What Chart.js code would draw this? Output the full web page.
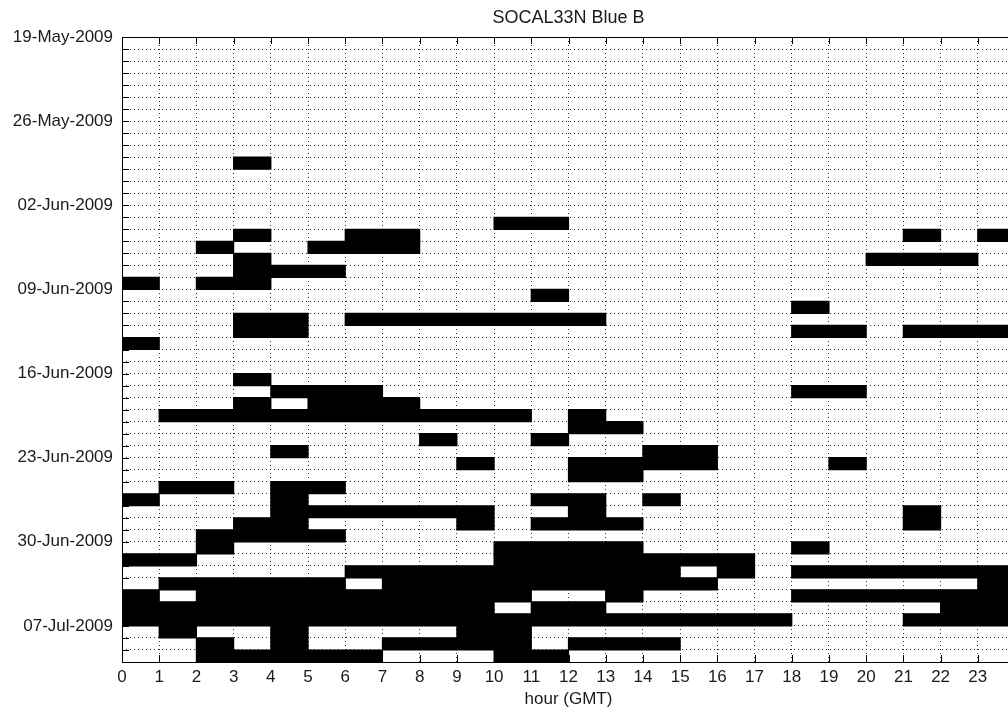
<!DOCTYPE html>
<html>
<head>
<meta charset="utf-8">
<title>SOCAL33N Blue B</title>
<script src="https://cdn.jsdelivr.net/npm/chart.js@4.4.1/dist/chart.umd.min.js"></script>
<style>
    html, body { margin: 0; padding: 0; background: #fff; overflow: hidden; }
    #wrap { width: 1030px; height: 711px; }
</style>
</head>
<body>
<div id="wrap"><canvas id="presence-chart" width="1030" height="711"></canvas></div>
<script>
// Hourly presence, one row per day from 19-May-2009 (day 0) to 09-Jul-2009 (day 51)
const dayCount = 52;
const hourCount = 24;
const dateLabels = ['19-May-2009', '26-May-2009', '02-Jun-2009', '09-Jun-2009',
                    '16-Jun-2009', '23-Jun-2009', '30-Jun-2009', '07-Jul-2009'];

// [day, first hour, last hour] of each detected block
const presence = [
    [10, 3, 4],
    [15, 10, 12],
    [16, 3, 4], [16, 6, 8], [16, 21, 22], [16, 23, 24],
    [17, 2, 3], [17, 5, 8],
    [18, 3, 4], [18, 20, 23],
    [19, 3, 6],
    [20, 0, 1], [20, 2, 4],
    [21, 11, 12],
    [22, 18, 19],
    [23, 3, 5], [23, 6, 13],
    [24, 3, 5], [24, 18, 20], [24, 21, 24],
    [25, 0, 1],
    [28, 3, 4],
    [29, 4, 7], [29, 18, 20],
    [30, 3, 4], [30, 5, 8],
    [31, 1, 11], [31, 12, 13],
    [32, 12, 14],
    [33, 8, 9], [33, 11, 12],
    [34, 4, 5], [34, 14, 16],
    [35, 9, 10], [35, 12, 16], [35, 19, 20],
    [36, 12, 14],
    [37, 1, 3], [37, 4, 6],
    [38, 0, 1], [38, 4, 5], [38, 11, 13], [38, 14, 15],
    [39, 4, 10], [39, 12, 13], [39, 21, 22],
    [40, 3, 5], [40, 9, 10], [40, 11, 14], [40, 21, 22],
    [41, 2, 6],
    [42, 2, 3], [42, 10, 14], [42, 18, 19],
    [43, 0, 2], [43, 10, 17],
    [44, 6, 15], [44, 16, 17], [44, 18, 24],
    [45, 1, 6], [45, 7, 16], [45, 23, 24],
    [46, 0, 1], [46, 2, 11], [46, 13, 14], [46, 18, 24],
    [47, 0, 10], [47, 11, 13], [47, 22, 24],
    [48, 0, 18], [48, 21, 24],
    [49, 1, 2], [49, 4, 5], [49, 9, 11],
    [50, 2, 3], [50, 4, 5], [50, 7, 11], [50, 12, 15],
    [51, 2, 7], [51, 10, 12]
];

Chart.defaults.font.family = '"Liberation Sans", Arial, sans-serif';
Chart.defaults.color = '#1a1a1a';

// Solid box round the axes with short inward tick marks on every side
const axesBox = {
    id: 'axesBox',
    afterDatasetsDraw(chart) {
        const { ctx, chartArea: a, scales: { x, y } } = chart;
        const len = 7;
        ctx.save();
        ctx.strokeStyle = '#000';
        ctx.lineWidth = 1;
        ctx.beginPath();
        x.ticks.forEach((t) => {
            const px = Math.round(x.getPixelForValue(t.value)) + 0.5;
            ctx.moveTo(px, a.bottom); ctx.lineTo(px, a.bottom - len);
            ctx.moveTo(px, a.top); ctx.lineTo(px, a.top + len);
        });
        y.ticks.forEach((t) => {
            const py = Math.round(y.getPixelForValue(t.value)) + 0.5;
            ctx.moveTo(a.left, py); ctx.lineTo(a.left + len, py);
            ctx.moveTo(a.right, py); ctx.lineTo(a.right - len, py);
        });
        ctx.stroke();
        ctx.strokeRect(Math.round(a.left) + 0.5, Math.round(a.top) + 0.5,
                       Math.round(a.right - a.left), Math.round(a.bottom - a.top));
        ctx.restore();
    }
};

const dotted = { display: false, dash: [1, 3] };

new Chart(document.getElementById('presence-chart'), {
    type: 'bar',
    data: {
        datasets: [{
            data: presence.map(([day, from, to]) => ({ y: day + 0.5, x: [from, to] })),
            backgroundColor: '#000',
            borderWidth: 0,
            barPercentage: 1,
            categoryPercentage: 1,
            inflateAmount: 0.6   // closes the hairline seams between stacked days
        }]
    },
    options: {
        indexAxis: 'y',
        responsive: false,
        animation: false,
        layout: { padding: { left: 0, right: 15, top: 0, bottom: 0 } },
        plugins: {
            legend: { display: false },
            tooltip: { enabled: false },
            title: {
                display: true,
                text: 'SOCAL33N Blue B',
                fullSize: false,
                font: { size: 18, weight: 'normal' },
                color: '#1a1a1a',
                padding: { top: 7.5, bottom: 7.9 }
            }
        },
        scales: {
            x: {
                type: 'linear',
                min: 0,
                max: hourCount,
                offset: false,
                grid: { color: '#333', drawTicks: false, offset: false },
                border: dotted,
                ticks: {
                    stepSize: 1,
                    autoSkip: false,
                    maxRotation: 0,
                    padding: 5,
                    font: { size: 17 },
                    callback: (v) => (v < hourCount ? String(v) : '')
                },
                title: { display: true, text: 'hour (GMT)', font: { size: 17 }, padding: { top: 0, bottom: 1 } },
                afterFit(scale) { scale.height = 49; }
            },
            y: {
                type: 'linear',
                min: 0,
                max: dayCount,
                reverse: true,
                offset: false,
                grid: { color: '#333', drawTicks: false, offset: false },
                border: dotted,
                ticks: {
                    stepSize: 1,
                    autoSkip: false,
                    padding: 9,
                    font: { size: 17 },
                    callback: (v) => (v % 7 === 0 && dateLabels[v / 7]) ? dateLabels[v / 7] : ''
                },
                afterFit(scale) { scale.width = 122; }
            }
        }
    },
    plugins: [axesBox]
});
</script>
</body>
</html>
